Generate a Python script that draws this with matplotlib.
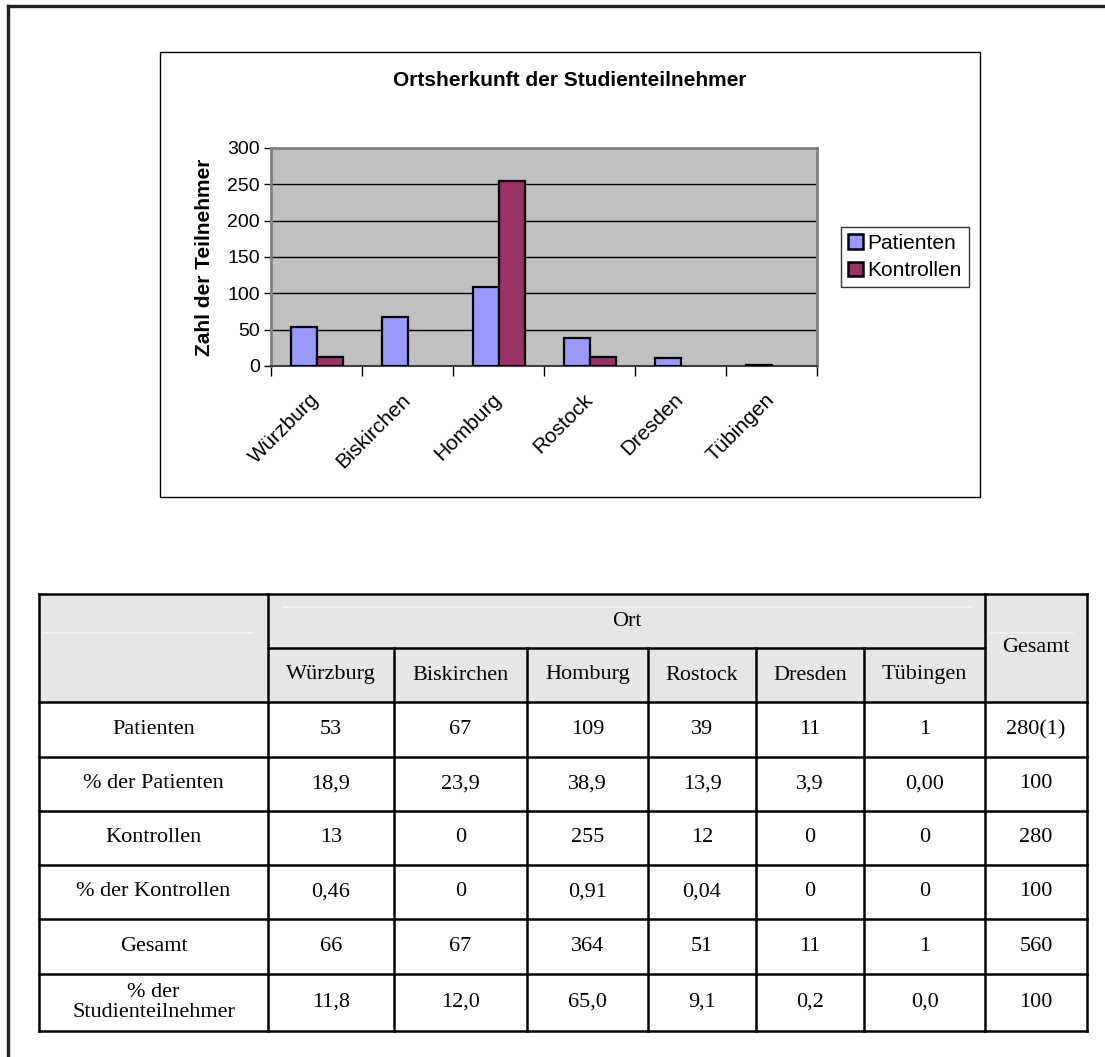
import numpy as np
import matplotlib
matplotlib.use("Agg")
import matplotlib.pyplot as plt
from matplotlib.patches import Rectangle
from matplotlib.lines import Line2D

# ---- data ----
orte = ["Würzburg", "Biskirchen", "Homburg", "Rostock", "Dresden", "Tübingen"]
patienten = [53, 67, 109, 39, 11, 1]
kontrollen = [13, 0, 255, 12, 0, 0]
gesamt = [66, 67, 364, 51, 11, 1]
pct_patienten = ["18,9", "23,9", "38,9", "13,9", "3,9", "0,00"]
pct_kontrollen = ["0,46", "0", "0,91", "0,04", "0", "0"]
pct_gesamt = ["11,8", "12,0", "65,0", "9,1", "0,2", "0,0"]
summen = ["280(1)", "100", "280", "100", "560", "100"]
zeilen = ["Patienten", "% der Patienten", "Kontrollen", "% der Kontrollen",
          "Gesamt", "% der\nStudienteilnehmer"]
series = ["Patienten", "Kontrollen"]
y_ticks = [0, 50, 100, 150, 200, 250, 300]

W, H = 1105, 1057
fig = plt.figure(figsize=(W / 100, H / 100), dpi=100)
fig.patch.set_facecolor("white")

def fx(x):
    return x / W

def fy(y):
    return 1 - y / H

# ---- page layer (pixel coordinates) ----
page = fig.add_axes([0, 0, 1, 1])
page.set_xlim(0, W)
page.set_ylim(H, 0)
page.axis("off")

# outer frame (continues beyond the right and bottom edge)
page.add_line(Line2D([8, 8], [6, H + 5], color="#222222", lw=2.4))
page.add_line(Line2D([8, W + 5], [6, 6], color="#222222", lw=2.4))

# chart frame
page.add_patch(Rectangle((160, 52), 820, 445, fill=False, ec="black", lw=1.0))

# ---- chart ----
sans = "Liberation Sans"
L, R, T, B = 271, 817, 148, 366
ax = fig.add_axes([fx(L), fy(B), (R - L) / W, (B - T) / H])
ax.set_facecolor("#C0C0C0")
x = np.arange(len(orte))
w = 1 / 3.5
bars_p = ax.bar(x - w / 2, patienten, w, color="#9999FF", edgecolor="black",
                lw=1.6, label=series[0], zorder=3)
bars_k = ax.bar(x + w / 2, kontrollen, w, color="#993366", edgecolor="black",
                lw=1.6, label=series[1], zorder=3)
# empty bars leave no outline
for bars, vals in ((bars_p, patienten), (bars_k, kontrollen)):
    for patch, v in zip(bars, vals):
        if v == 0:
            patch.set_linewidth(0)

ax.set_xlim(-0.5, len(orte) - 0.5)
ax.set_ylim(0, 300)
ax.set_yticks(y_ticks)
ax.set_yticklabels([str(v) for v in y_ticks], fontsize=14, family=sans)
for v in y_ticks[1:-1]:
    ax.axhline(v, color="black", lw=1.0, zorder=1)

# category boundaries as tick marks, names centred between them
ax.set_xticks(np.arange(-0.5, len(orte)), labels=[""] * (len(orte) + 1))
ax.set_xticks(x, minor=True)
ax.set_xticklabels(orte, minor=True, rotation=45, ha="right", va="center",
                   rotation_mode="anchor", fontsize=15, family=sans)
ax.tick_params(axis="x", which="major", length=7, width=1, color="black",
               direction="out")
ax.tick_params(axis="x", which="minor", length=0, pad=22)
ax.tick_params(axis="y", length=5, width=1, color="black", direction="out", pad=3)

for s in ("top", "right", "left"):
    ax.spines[s].set_color("#808080")
    ax.spines[s].set_linewidth(2)
ax.spines["bottom"].set_color("#404040")
ax.spines["bottom"].set_linewidth(1.5)

ax.set_ylabel("Zahl der Teilnehmer", fontsize=15, fontweight="bold", family=sans)
ax.yaxis.set_label_coords((214 - L) / (R - L), 0.5)

fig.text(fx(570), fy(80), "Ortsherkunft der Studienteilnehmer", ha="center",
         va="center", fontsize=15, fontweight="bold", family=sans)

handles, labels = ax.get_legend_handles_labels()
leg = fig.legend(handles, labels, loc="center",
                 bbox_to_anchor=(fx(905), fy(257)),
                 prop={"family": sans, "size": 15},
                 frameon=True, fancybox=False, edgecolor="black",
                 handlelength=0.7, handleheight=0.7, handletextpad=0.2,
                 borderpad=0.35, labelspacing=0.4, borderaxespad=0)
leg.get_frame().set_linewidth(1.0)
for hp in leg.legend_handles:
    hp.set_linewidth(1.8)

# ---- table ----
serif = "Liberation Serif"
fs = 16
col_edges = [39, 268, 394, 527, 648, 756, 864, 985, 1087]
row_edges = [594, 648, 702, 757, 811, 865, 919, 974, 1031]
lw = 1.8
top, bot = row_edges[0], row_edges[-1]
left, right = col_edges[0], col_edges[-1]

# header shading
page.add_patch(Rectangle((left, top), right - left, row_edges[2] - top,
                         fc="#E6E6E6", ec="none"))
# faint highlight lines in the header cells
page.add_line(Line2D([283, 972], [607, 607], color="#F4F4F4", lw=1.2))
page.add_line(Line2D([left + 4, 253], [633, 633], color="#F4F4F4", lw=1.2))
page.add_line(Line2D([990, 1073], [633, 633], color="#F4F4F4", lw=1.2))

def hline(y, x0, x1):
    page.add_line(Line2D([x0, x1], [y, y], color="black", lw=lw,
                         solid_capstyle="projecting"))

def vline(x, y0, y1):
    page.add_line(Line2D([x, x], [y0, y1], color="black", lw=lw,
                         solid_capstyle="projecting"))

hline(top, left, right)
hline(row_edges[1], col_edges[1], col_edges[-2])
for y in row_edges[2:]:
    hline(y, left, right)
vline(left, top, bot)
vline(right, top, bot)
vline(col_edges[1], top, bot)
vline(col_edges[-2], top, bot)
for xe in col_edges[2:-2]:
    vline(xe, row_edges[1], bot)

def cell_text(c0, c1, r0, r1, s):
    page.text((c0 + c1) / 2, (r0 + r1) / 2, s, ha="center", va="center",
              fontsize=fs, family=serif, linespacing=1.05)

cell_text(col_edges[1], col_edges[-2], row_edges[0], row_edges[1], "Ort")
cell_text(col_edges[-2], col_edges[-1], row_edges[0], row_edges[2], "Gesamt")
for i, name in enumerate(orte):
    cell_text(col_edges[i + 1], col_edges[i + 2], row_edges[1], row_edges[2], name)

rows = [
    [str(v) for v in patienten],
    pct_patienten,
    [str(v) for v in kontrollen],
    pct_kontrollen,
    [str(v) for v in gesamt],
    pct_gesamt,
]
for r, (label, vals) in enumerate(zip(zeilen, rows)):
    r0, r1 = row_edges[r + 2], row_edges[r + 3]
    cell_text(col_edges[0], col_edges[1], r0, r1, label)
    for i, v in enumerate(vals):
        cell_text(col_edges[i + 1], col_edges[i + 2], r0, r1, v)
    cell_text(col_edges[-2], col_edges[-1], r0, r1, summen[r])

fig.savefig("out.png", dpi=100)
